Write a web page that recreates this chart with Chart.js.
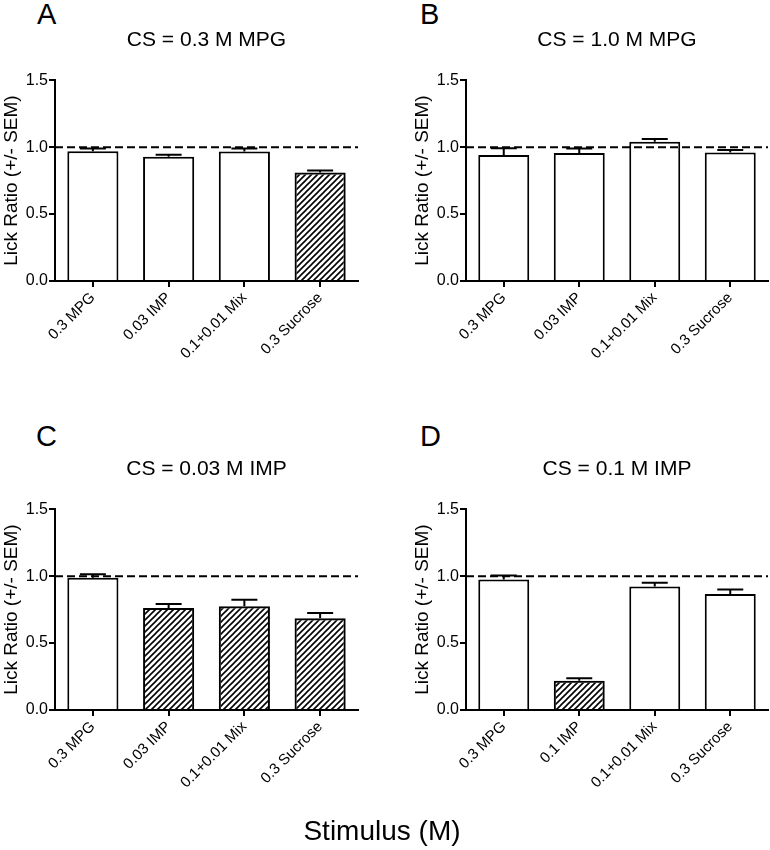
<!DOCTYPE html>
<html>
<head>
<meta charset="utf-8">
<script src="https://cdn.jsdelivr.net/npm/chart.js@4.4.1/dist/chart.umd.min.js"></script>
<style>
body { margin:0; background:#fff; width:770px; height:850px; overflow:hidden; position:relative; font-family:"Liberation Sans", Arial, sans-serif; color:#000; }
canvas { position:absolute; }
.letter { position:absolute; font-size:29px; line-height:29px; }
#xlabel { position:absolute; left:0; top:817px; width:764px; text-align:center; font-size:28px; line-height:28px; }
</style>
</head>
<body>
<div class="letter" style="left:37px;top:0">A</div>
<div class="letter" style="left:420px;top:0">B</div>
<div class="letter" style="left:36px;top:422px">C</div>
<div class="letter" style="left:420px;top:422px">D</div>
<canvas id="chartA" width="385" height="425" style="left:0;top:0"></canvas>
<canvas id="chartB" width="359" height="425" style="left:411px;top:0"></canvas>
<canvas id="chartC" width="385" height="421" style="left:0;top:429px"></canvas>
<canvas id="chartD" width="359" height="421" style="left:411px;top:429px"></canvas>
<div id="xlabel">Stimulus (M)</div>
<script>
const categoriesMPG = ['0.3 MPG', '0.03 IMP', '0.1+0.01 Mix', '0.3 Sucrose'];
const categoriesIMP = ['0.3 MPG', '0.1 IMP', '0.1+0.01 Mix', '0.3 Sucrose'];
const yTicks = [0, 0.5, 1.0, 1.5];
const refLine = 1.0;

// CS = 0.3 M MPG
const meansA = [0.970, 0.928, 0.968, 0.811];
const semA = [0.020, 0.015, 0.022, 0.015];
const hatchA = [false, false, false, true];

// CS = 1.0 M MPG
const meansB = [0.942, 0.957, 1.041, 0.960];
const semB = [0.050, 0.032, 0.020, 0.019];
const hatchB = [false, false, false, false];

// CS = 0.03 M IMP
const meansC = [0.988, 0.762, 0.775, 0.686];
const semC = [0.027, 0.030, 0.049, 0.039];
const hatchC = [false, true, true, true];

// CS = 0.1 M IMP
const meansD = [0.975, 0.218, 0.923, 0.866];
const semD = [0.030, 0.020, 0.027, 0.035];
const hatchD = [false, true, false, false];

const family = '"Liberation Sans", Arial, sans-serif';
Chart.defaults.font.family = family;
Chart.defaults.color = '#000';

const PLOT_BOTTOM = 281;

function hatchPattern(ctx) {
    const c = document.createElement('canvas');
    c.width = 6;
    c.height = 6;
    const g = c.getContext('2d');
    g.strokeStyle = '#000';
    g.lineWidth = 1.6;
    g.beginPath();
    g.moveTo(0, 6); g.lineTo(6, 0);
    g.moveTo(-1, 1); g.lineTo(1, -1);
    g.moveTo(5, 7); g.lineTo(7, 5);
    g.stroke();
    return ctx.createPattern(c, 'repeat');
}

// upper SEM whiskers + dashed line at 1.0
const errorBars = {
    id: 'errorBars',
    afterDatasetsDraw(chart, args, opts) {
        const ctx = chart.ctx;
        const y = chart.scales.y;
        const ds = chart.data.datasets[0];
        const meta = chart.getDatasetMeta(0);
        ctx.save();
        ctx.strokeStyle = '#000';
        ctx.lineWidth = 2;
        meta.data.forEach((bar, i) => {
            const top = y.getPixelForValue(ds.data[i] + opts.sem[i]);
            ctx.beginPath();
            ctx.moveTo(bar.x, bar.y);
            ctx.lineTo(bar.x, top);
            ctx.moveTo(bar.x - 13, top);
            ctx.lineTo(bar.x + 13, top);
            ctx.stroke();
        });
        const yl = y.getPixelForValue(opts.refLine);
        ctx.setLineDash([8, 4]);
        ctx.beginPath();
        ctx.moveTo(chart.chartArea.left, yl);
        ctx.lineTo(chart.chartArea.right, yl);
        ctx.stroke();
        ctx.restore();
    }
};

function makeChart(id, title, labels, means, sem, hatch, padRight) {
    const canvas = document.getElementById(id);
    const ctx = canvas.getContext('2d');
    const pattern = hatchPattern(ctx);
    return new Chart(ctx, {
        type: 'bar',
        data: {
            labels,
            datasets: [{
                data: means,
                backgroundColor: hatch.map(h => h ? pattern : '#fff'),
                borderColor: '#000',
                borderWidth: 2,
                borderSkipped: 'bottom',
                categoryPercentage: 1,
                barPercentage: 0.675,
            }],
        },
        options: {
            responsive: false,
            animation: false,
            devicePixelRatio: 1,
            layout: { padding: { left: 0, right: padRight, top: 0, bottom: 0 } },
            plugins: {
                legend: { display: false },
                tooltip: { enabled: false },
                title: {
                    display: true,
                    text: title,
                    fullSize: false,
                    color: '#000',
                    font: { size: 21, weight: 'normal' },
                    padding: { top: 28, bottom: 27 },
                },
                errorBars: { sem, refLine },
            },
            scales: {
                x: {
                    grid: { display: true, drawOnChartArea: false, offset: false, color: '#000', lineWidth: 2, tickLength: 6 },
                    border: { display: true, color: '#000', width: 2 },
                    ticks: { color: '#000', font: { size: 15 }, maxRotation: 45, minRotation: 45, autoSkip: false, padding: 2 },
                    afterFit: s => { s.height = canvas.height - PLOT_BOTTOM; },
                },
                y: {
                    min: 0,
                    max: 1.5,
                    afterBuildTicks: s => { s.ticks = yTicks.map(v => ({ value: v })); },
                    grid: { drawOnChartArea: false, color: '#000', lineWidth: 2, tickLength: 6 },
                    border: { display: true, color: '#000', width: 2 },
                    ticks: { color: '#000', font: { size: 16 }, padding: 1, callback: v => v.toFixed(1) },
                    title: { display: true, text: 'Lick Ratio (+/- SEM)', color: '#000', font: { size: 19 }, padding: { top: 0, bottom: 0 } },
                    afterFit: s => { s.width = 55; },
                },
            },
        },
        plugins: [errorBars],
    });
}

makeChart('chartA', 'CS = 0.3 M MPG', categoriesMPG, meansA, semA, hatchA, 27);
makeChart('chartB', 'CS = 1.0 M MPG', categoriesMPG, meansB, semB, hatchB, 2);
makeChart('chartC', 'CS = 0.03 M IMP', categoriesMPG, meansC, semC, hatchC, 27);
makeChart('chartD', 'CS = 0.1 M IMP', categoriesIMP, meansD, semD, hatchD, 2);
</script>
</body>
</html>
